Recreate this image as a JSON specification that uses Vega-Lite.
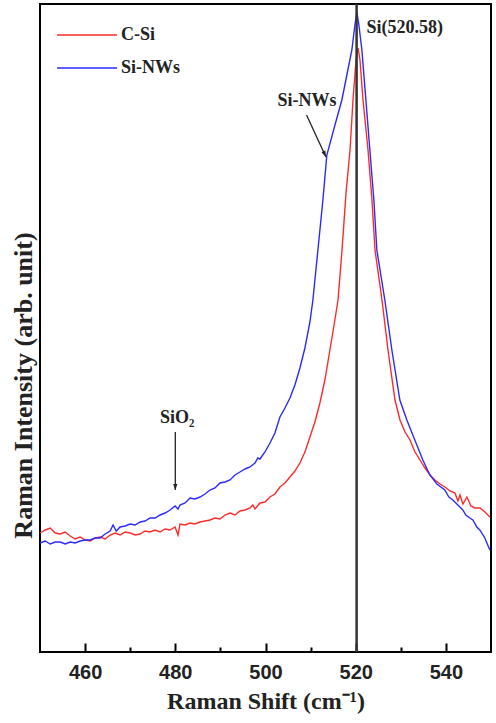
{
  "$schema": "https://vega.github.io/schema/vega-lite/v6.json",
  "autosize": {"type": "none"},
  "padding": {"left": 40, "top": 4, "right": 5, "bottom": 71},
  "width": 451,
  "height": 648,
  "background": "white",
  "config": {
    "view": {"stroke": "black", "strokeWidth": 2},
    "font": "Liberation Serif"
  },
  "datasets": {
    "spectra": [
      {"x":450.04,"y":119,"s":"C-Si"},{"x":451.15,"y":122,"s":"C-Si"},{"x":452.26,"y":124,"s":"C-Si"},{"x":453.37,"y":119,"s":"C-Si"},{"x":454.47,"y":118,"s":"C-Si"},{"x":455.58,"y":120,"s":"C-Si"},{"x":456.69,"y":116,"s":"C-Si"},{"x":457.8,"y":113,"s":"C-Si"},{"x":458.9,"y":115,"s":"C-Si"},{"x":460.01,"y":112,"s":"C-Si"},{"x":461.12,"y":111,"s":"C-Si"},{"x":462.23,"y":114,"s":"C-Si"},{"x":463.33,"y":115,"s":"C-Si"},{"x":464.44,"y":113,"s":"C-Si"},{"x":465.55,"y":117,"s":"C-Si"},{"x":466.66,"y":119,"s":"C-Si"},{"x":467.76,"y":117,"s":"C-Si"},{"x":468.87,"y":120,"s":"C-Si"},{"x":469.98,"y":119,"s":"C-Si"},{"x":471.09,"y":117,"s":"C-Si"},{"x":472.19,"y":118,"s":"C-Si"},{"x":473.3,"y":121,"s":"C-Si"},{"x":474.41,"y":120,"s":"C-Si"},{"x":475.52,"y":122,"s":"C-Si"},{"x":476.62,"y":120,"s":"C-Si"},{"x":477.73,"y":123,"s":"C-Si"},{"x":478.84,"y":122,"s":"C-Si"},{"x":479.95,"y":125,"s":"C-Si"},{"x":480.6,"y":117,"s":"C-Si"},{"x":481.05,"y":128,"s":"C-Si"},{"x":482.16,"y":127,"s":"C-Si"},{"x":483.27,"y":129,"s":"C-Si"},{"x":484.37,"y":128,"s":"C-Si"},{"x":485.48,"y":130,"s":"C-Si"},{"x":486.59,"y":131,"s":"C-Si"},{"x":487.7,"y":132,"s":"C-Si"},{"x":488.8,"y":134,"s":"C-Si"},{"x":489.91,"y":133,"s":"C-Si"},{"x":491.02,"y":137,"s":"C-Si"},{"x":492.13,"y":139,"s":"C-Si"},{"x":493.23,"y":137,"s":"C-Si"},{"x":494.34,"y":141,"s":"C-Si"},{"x":495.45,"y":142,"s":"C-Si"},{"x":496.56,"y":144,"s":"C-Si"},{"x":497.2,"y":147,"s":"C-Si"},{"x":497.66,"y":143,"s":"C-Si"},{"x":498.77,"y":149,"s":"C-Si"},{"x":499.88,"y":150,"s":"C-Si"},{"x":500.99,"y":155,"s":"C-Si"},{"x":502.09,"y":158,"s":"C-Si"},{"x":503.2,"y":165,"s":"C-Si"},{"x":504.31,"y":169,"s":"C-Si"},{"x":505.42,"y":175,"s":"C-Si"},{"x":506.52,"y":181,"s":"C-Si"},{"x":507.63,"y":189,"s":"C-Si"},{"x":508.74,"y":200,"s":"C-Si"},{"x":509.85,"y":215,"s":"C-Si"},{"x":510.95,"y":230,"s":"C-Si"},{"x":512.06,"y":249,"s":"C-Si"},{"x":513.17,"y":272,"s":"C-Si"},{"x":514.28,"y":302,"s":"C-Si"},{"x":515.2,"y":327,"s":"C-Si"},{"x":516.08,"y":352,"s":"C-Si"},{"x":516.97,"y":402,"s":"C-Si"},{"x":517.85,"y":459,"s":"C-Si"},{"x":518.74,"y":502,"s":"C-Si"},{"x":519.4,"y":552,"s":"C-Si"},{"x":520.07,"y":592,"s":"C-Si"},{"x":520.51,"y":604,"s":"C-Si"},{"x":520.95,"y":592,"s":"C-Si"},{"x":521.62,"y":552,"s":"C-Si"},{"x":522.73,"y":502,"s":"C-Si"},{"x":523.61,"y":452,"s":"C-Si"},{"x":524.28,"y":402,"s":"C-Si"},{"x":525.83,"y":352,"s":"C-Si"},{"x":527.16,"y":302,"s":"C-Si"},{"x":528.71,"y":252,"s":"C-Si"},{"x":529.82,"y":232,"s":"C-Si"},{"x":530.93,"y":220,"s":"C-Si"},{"x":532.04,"y":212,"s":"C-Si"},{"x":533.15,"y":200,"s":"C-Si"},{"x":534.26,"y":192,"s":"C-Si"},{"x":535.36,"y":184,"s":"C-Si"},{"x":536.47,"y":177,"s":"C-Si"},{"x":537.58,"y":172,"s":"C-Si"},{"x":538.69,"y":168,"s":"C-Si"},{"x":539.79,"y":165,"s":"C-Si"},{"x":540.9,"y":161,"s":"C-Si"},{"x":542.01,"y":159,"s":"C-Si"},{"x":542.67,"y":151,"s":"C-Si"},{"x":543.12,"y":157,"s":"C-Si"},{"x":543.78,"y":148,"s":"C-Si"},{"x":544.66,"y":155,"s":"C-Si"},{"x":545.55,"y":146,"s":"C-Si"},{"x":546.44,"y":144,"s":"C-Si"},{"x":547.55,"y":144,"s":"C-Si"},{"x":548.65,"y":140,"s":"C-Si"},{"x":549.76,"y":135,"s":"C-Si"},
      {"x":450.04,"y":109,"s":"Si-NWs"},{"x":451.15,"y":111,"s":"Si-NWs"},{"x":452.26,"y":108,"s":"Si-NWs"},{"x":453.37,"y":110,"s":"Si-NWs"},{"x":454.47,"y":110,"s":"Si-NWs"},{"x":455.58,"y":108,"s":"Si-NWs"},{"x":456.69,"y":110,"s":"Si-NWs"},{"x":457.8,"y":109,"s":"Si-NWs"},{"x":458.9,"y":111,"s":"Si-NWs"},{"x":460.01,"y":112,"s":"Si-NWs"},{"x":461.12,"y":112,"s":"Si-NWs"},{"x":462.23,"y":114,"s":"Si-NWs"},{"x":463.33,"y":114,"s":"Si-NWs"},{"x":464.44,"y":118,"s":"Si-NWs"},{"x":465.55,"y":121,"s":"Si-NWs"},{"x":466.2,"y":127,"s":"Si-NWs"},{"x":466.9,"y":121,"s":"Si-NWs"},{"x":467.76,"y":125,"s":"Si-NWs"},{"x":468.87,"y":126,"s":"Si-NWs"},{"x":469.98,"y":128,"s":"Si-NWs"},{"x":471.09,"y":127,"s":"Si-NWs"},{"x":472.19,"y":130,"s":"Si-NWs"},{"x":473.3,"y":131,"s":"Si-NWs"},{"x":474.41,"y":134,"s":"Si-NWs"},{"x":475.52,"y":134,"s":"Si-NWs"},{"x":476.62,"y":137,"s":"Si-NWs"},{"x":477.73,"y":139,"s":"Si-NWs"},{"x":478.84,"y":142,"s":"Si-NWs"},{"x":479.95,"y":146,"s":"Si-NWs"},{"x":480.6,"y":143,"s":"Si-NWs"},{"x":481.05,"y":147,"s":"Si-NWs"},{"x":482.16,"y":149,"s":"Si-NWs"},{"x":483.27,"y":154,"s":"Si-NWs"},{"x":484.37,"y":153,"s":"Si-NWs"},{"x":485.48,"y":155,"s":"Si-NWs"},{"x":486.59,"y":158,"s":"Si-NWs"},{"x":487.7,"y":162,"s":"Si-NWs"},{"x":488.8,"y":164,"s":"Si-NWs"},{"x":489.91,"y":169,"s":"Si-NWs"},{"x":491.02,"y":170,"s":"Si-NWs"},{"x":492.13,"y":172,"s":"Si-NWs"},{"x":493.23,"y":177,"s":"Si-NWs"},{"x":494.34,"y":180,"s":"Si-NWs"},{"x":495.45,"y":183,"s":"Si-NWs"},{"x":496.56,"y":185,"s":"Si-NWs"},{"x":497.66,"y":189,"s":"Si-NWs"},{"x":498.3,"y":194,"s":"Si-NWs"},{"x":498.77,"y":193,"s":"Si-NWs"},{"x":499.88,"y":200,"s":"Si-NWs"},{"x":500.99,"y":209,"s":"Si-NWs"},{"x":502.09,"y":219,"s":"Si-NWs"},{"x":503.2,"y":235,"s":"Si-NWs"},{"x":504.31,"y":244,"s":"Si-NWs"},{"x":505.42,"y":254,"s":"Si-NWs"},{"x":506.52,"y":267,"s":"Si-NWs"},{"x":507.63,"y":284,"s":"Si-NWs"},{"x":508.74,"y":304,"s":"Si-NWs"},{"x":509.85,"y":330,"s":"Si-NWs"},{"x":510.51,"y":352,"s":"Si-NWs"},{"x":511.62,"y":402,"s":"Si-NWs"},{"x":512.73,"y":452,"s":"Si-NWs"},{"x":513.6,"y":497,"s":"Si-NWs"},{"x":515.4,"y":527,"s":"Si-NWs"},{"x":516.93,"y":552,"s":"Si-NWs"},{"x":518.04,"y":577,"s":"Si-NWs"},{"x":519.15,"y":602,"s":"Si-NWs"},{"x":519.82,"y":627,"s":"Si-NWs"},{"x":520.26,"y":640,"s":"Si-NWs"},{"x":520.71,"y":627,"s":"Si-NWs"},{"x":521.37,"y":602,"s":"Si-NWs"},{"x":522.26,"y":552,"s":"Si-NWs"},{"x":523.14,"y":502,"s":"Si-NWs"},{"x":524.03,"y":452,"s":"Si-NWs"},{"x":524.69,"y":402,"s":"Si-NWs"},{"x":526.46,"y":352,"s":"Si-NWs"},{"x":528.02,"y":302,"s":"Si-NWs"},{"x":529.79,"y":252,"s":"Si-NWs"},{"x":531.34,"y":232,"s":"Si-NWs"},{"x":533.11,"y":212,"s":"Si-NWs"},{"x":534.89,"y":192,"s":"Si-NWs"},{"x":536.44,"y":177,"s":"Si-NWs"},{"x":537.99,"y":168,"s":"Si-NWs"},{"x":539.77,"y":162,"s":"Si-NWs"},{"x":540.66,"y":155,"s":"Si-NWs"},{"x":541.54,"y":152,"s":"Si-NWs"},{"x":542.65,"y":147,"s":"Si-NWs"},{"x":543.76,"y":142,"s":"Si-NWs"},{"x":544.42,"y":137,"s":"Si-NWs"},{"x":545.31,"y":134,"s":"Si-NWs"},{"x":545.97,"y":132,"s":"Si-NWs"},{"x":546.86,"y":125,"s":"Si-NWs"},{"x":547.52,"y":122,"s":"Si-NWs"},{"x":548.63,"y":114,"s":"Si-NWs"},{"x":549.74,"y":102,"s":"Si-NWs"}
    ],
    "peak": [{"x": 520.2}],
    "peakLabel": [{"x": 522.4, "y": 624, "t": "Si(520.58)"}],
    "notes": [{"x": 509.2, "y": 551, "t": "Si-NWs"}, {"x": 480.4, "y": 234, "t": "SiO₂"}],
    "arrows": [{"x": 480.0, "y": 220, "x2": 480.0, "y2": 162, "a": 0}, {"x": 509.1, "y": 537, "x2": 513.4, "y2": 495, "a": -24}]
  },
  "layer": [
    {
      "data": {"name": "spectra"},
      "mark": {"type": "line", "strokeWidth": 1.4},
      "encoding": {
        "x": {
          "field": "x", "type": "quantitative",
          "scale": {"domain": [450, 550], "nice": false, "zero": false},
          "axis": {
            "title": "Raman Shift (cm⁻¹)",
            "values": [460, 470, 480, 490, 500, 510, 520, 530, 540],
            "labelExpr": "datum.value % 20 === 0 ? datum.label : ''",
            "domain": false,
            "grid": false,
            "tickColor": "black",
            "tickWidth": 2,
            "tickSize": -9,
            "tickDash": {"condition": {"test": "datum.value % 20 === 0", "value": [20, 0]}, "value": [5, 30]},
            "labelFont": "Liberation Sans",
            "labelFontWeight": "bold",
            "labelFontSize": 20,
            "labelColor": "#222",
            "labelPadding": 19,
            "titleFont": "Liberation Serif",
            "titleFontWeight": "bold",
            "titleFontSize": 24,
            "titleColor": "#222",
            "titlePadding": 7
          }
        },
        "y": {
          "field": "y", "type": "quantitative",
          "scale": {"domain": [0, 648], "nice": false, "zero": false},
          "axis": {
            "title": "Raman Intensity (arb. unit)",
            "domain": false, "ticks": false, "labels": false, "grid": false,
            "titleFont": "Liberation Serif",
            "titleFontWeight": "bold",
            "titleFontSize": 26,
            "titleColor": "#222",
            "titleAngle": 270,
            "titleAlign": "center",
            "titleBaseline": "middle",
            "titleX": -17,
            "titleY": 381
          }
        },
        "color": {
          "field": "s", "type": "nominal",
          "scale": {"domain": ["C-Si", "Si-NWs"], "range": ["#ff2a2a", "#2a2aff"]},
          "legend": {
            "title": null,
            "orient": "none",
            "legendX": 16,
            "legendY": 21,
            "padding": 0,
            "symbolType": "stroke",
            "symbolSize": 3600,
            "symbolStrokeWidth": 1.5,
            "clipHeight": 20,
            "rowPadding": 13,
            "labelOffset": 3,
            "labelFont": "Liberation Serif",
            "labelFontWeight": "bold",
            "labelFontSize": 18,
            "labelColor": "#222"
          }
        }
      }
    },
    {
      "data": {"name": "peak"},
      "mark": {"type": "rule", "color": "#333", "strokeWidth": 2.5},
      "encoding": {"x": {"field": "x", "type": "quantitative"}}
    },
    {
      "data": {"name": "peakLabel"},
      "mark": {"type": "text", "align": "left", "baseline": "middle", "font": "Liberation Serif", "fontWeight": "bold", "fontSize": 18, "color": "#222"},
      "encoding": {
        "x": {"field": "x", "type": "quantitative"},
        "y": {"field": "y", "type": "quantitative"},
        "text": {"field": "t"}
      }
    },
    {
      "data": {"name": "notes"},
      "mark": {"type": "text", "align": "center", "baseline": "middle", "font": "Liberation Serif", "fontWeight": "bold", "fontSize": 18, "color": "#222"},
      "encoding": {
        "x": {"field": "x", "type": "quantitative"},
        "y": {"field": "y", "type": "quantitative"},
        "text": {"field": "t"}
      }
    },
    {
      "data": {"name": "arrows"},
      "mark": {"type": "rule", "color": "#222", "strokeWidth": 1.3},
      "encoding": {
        "x": {"field": "x", "type": "quantitative"},
        "y": {"field": "y", "type": "quantitative"},
        "x2": {"field": "x2"},
        "y2": {"field": "y2"}
      }
    },
    {
      "data": {"name": "arrows"},
      "mark": {"type": "point", "shape": "M -0.35 -1 L 0.35 -1 L 0 0 Z", "filled": true, "color": "#222", "size": 150, "opacity": 1},
      "encoding": {
        "x": {"field": "x2", "type": "quantitative"},
        "y": {"field": "y2", "type": "quantitative"},
        "angle": {"field": "a", "type": "quantitative", "scale": null}
      }
    }
  ]
}
